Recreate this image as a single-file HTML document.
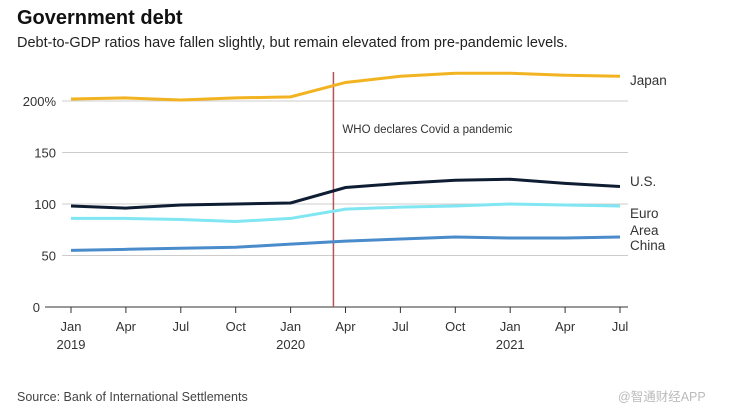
<!DOCTYPE html>
<html><head><meta charset="utf-8"><style>
body{margin:0;background:#fff;font-family:"Liberation Sans",sans-serif;}
svg text{font-family:"Liberation Sans",sans-serif;}
</style></head><body>
<svg width="736" height="414" xmlns="http://www.w3.org/2000/svg" id="chart">
<text x="17" y="24" font-size="20" font-weight="bold" fill="#111">Government debt</text>
<text x="17" y="47" font-size="14.5" fill="#222">Debt-to-GDP ratios have fallen slightly, but remain elevated from pre-pandemic levels.</text>
<g id="grid"></g><g id="axes"></g><g id="series"></g><g id="labels"></g>
<text x="17" y="401" font-size="12.5" fill="#444">Source: Bank of International Settlements</text>
<text x="618" y="401" font-size="12.5" fill="#bbb">@智通财经APP</text>
</svg>
<script>
const quarters=["Jan","Apr","Jul","Oct","Jan","Apr","Jul","Oct","Jan","Apr","Jul"];
const years=["2019","","","","2020","","","","2021","",""];
const yTicks=[0,50,100,150,200];
const japan=[202,203,201,203,204,218,224,227,227,225,224];
const us=[98,96,99,100,101,116,120,123,124,120,117];
const euro=[86,86,85,83,86,95,97,98,100,99,98];
const china=[55,56,57,58,61,64,66,68,67,67,68];
const whoIndex=4.78;
const NS="http://www.w3.org/2000/svg";
const x0=71,x1=620,y0=307,k=1.03;
const X=i=>x0+i*(x1-x0)/(quarters.length-1);
const Y=v=>y0-v*k;
function mk(t,a,p){const e=document.createElementNS(NS,t);for(const n in a)e.setAttribute(n,a[n]);p.appendChild(e);return e;}
const grid=document.getElementById('grid'),axes=document.getElementById('axes'),ser=document.getElementById('series'),lab=document.getElementById('labels');
yTicks.forEach(v=>{
 const l=mk('line',{x1:v===0?45:62,x2:628,y1:Y(v),y2:Y(v),stroke:v===0?'#333':'#ccc','stroke-width':1},grid);
 
 
 const t=mk('text',{x:v===0?40:56,y:Y(v)+5,'text-anchor':'end','font-size':13,fill:'#333'},axes);
 t.textContent=v===200?'200%':v;
 
 
});
quarters.forEach((q,i)=>{
 const tk=mk('line',{x1:X(i),x2:X(i),y1:y0,y2:y0+6,stroke:'#333'},axes);
 
 
 const t=mk('text',{x:X(i),y:331,'text-anchor':'middle','font-size':13,fill:'#333'},axes);
 t.textContent=q;
 
 
 if(years[i]){const y=mk('text',{x:X(i),y:349,'text-anchor':'middle','font-size':13,fill:'#333'},axes);y.textContent=years[i];
 
 }
});
const vl=mk('line',{x1:X(whoIndex),x2:X(whoIndex),y1:72,y2:y0,stroke:'#b5525a','stroke-width':1.5},ser);


const vt=mk('text',{x:X(whoIndex)+9,y:133,'font-size':11.5,fill:'#333'},lab);
vt.textContent='WHO declares Covid a pandemic';


[[japan,'#f2b321','japan'],[us,'#0f1d33','us'],[euro,'#7fe6f2','euro'],[china,'#4a8ccb','china']].forEach(([d,c,n])=>{
 const p=mk('polyline',{points:d.map((v,i)=>X(i)+','+Y(v)).join(' '),fill:'none',stroke:c,'stroke-width':3},ser);
 
 
});
const lbl=[['Japan',85],['U.S.',186],['Euro',218],['Area',235],['China',250]];
lbl.forEach(([s,y])=>{const t=mk('text',{x:630,y:y,'font-size':13.5,fill:'#333'},lab);t.textContent=s;
 
 });
</script>
</body></html>
